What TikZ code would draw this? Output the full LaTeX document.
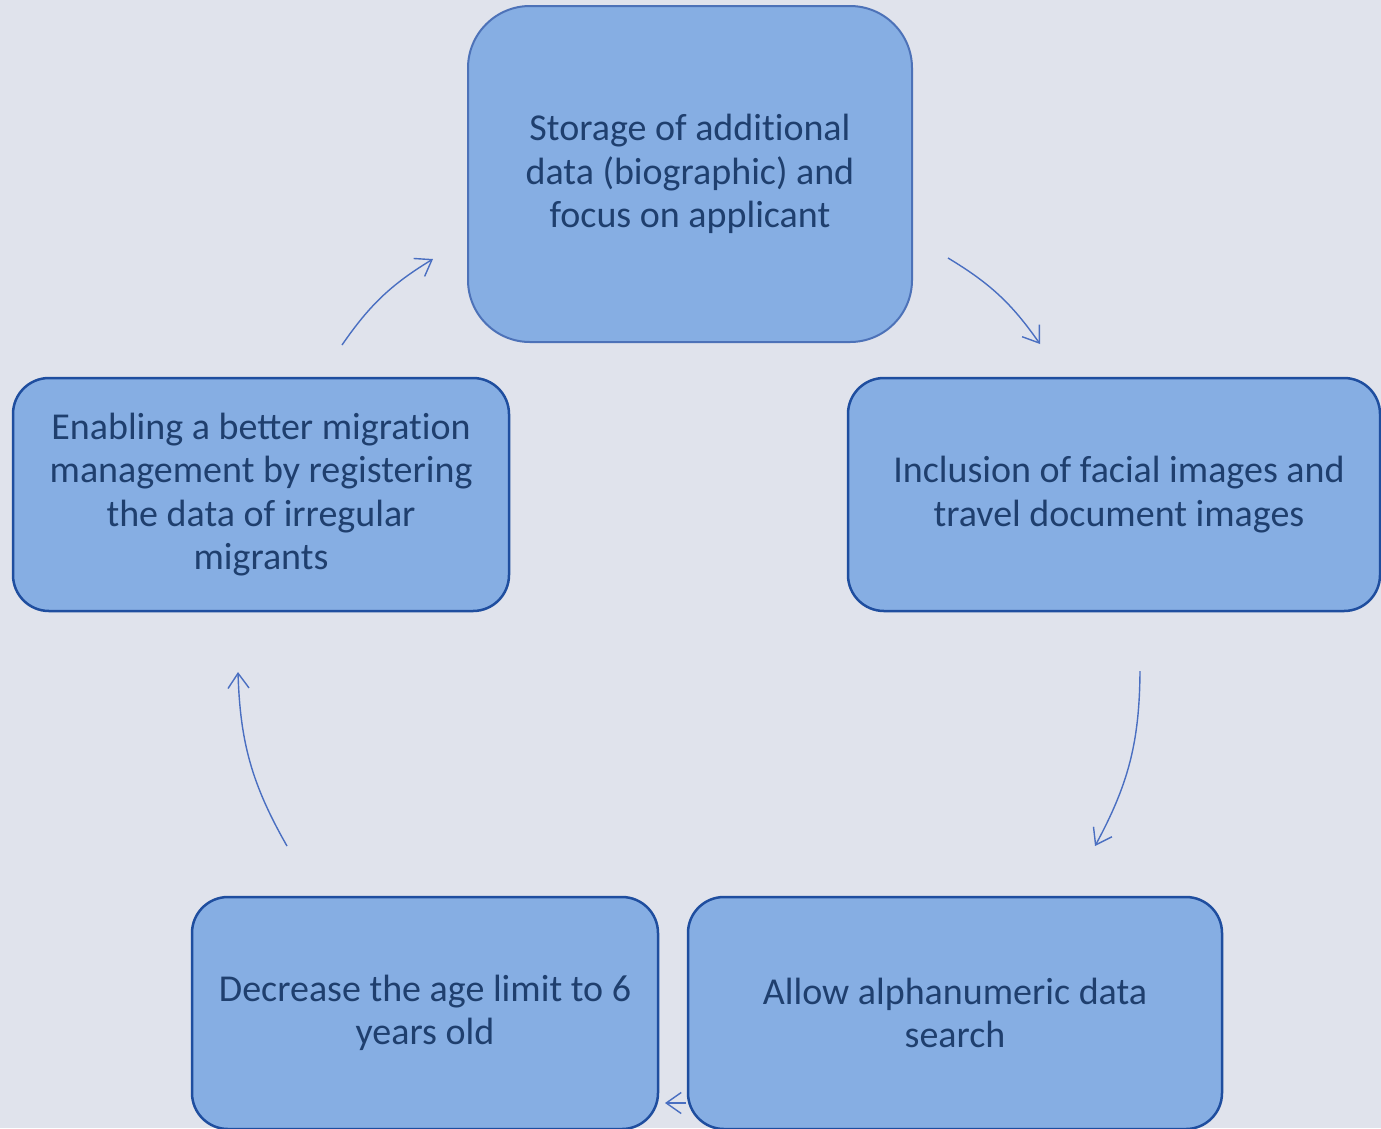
\documentclass[tikz,border=0pt]{standalone}
\usepackage{fontspec}
\setmainfont{Carlito}
\usetikzlibrary{arrows.meta}
\definecolor{bg}{HTML}{E0E3EC}
\definecolor{boxfill}{HTML}{86AEE3}
\definecolor{boxline}{HTML}{1F4E9F}
\definecolor{topline}{HTML}{4D72B8}
\definecolor{txt}{HTML}{1F3F6E}
\definecolor{arr}{HTML}{4A6FC1}
\tikzset{
  stepbox/.style={draw=boxline, line width=2.5pt, fill=boxfill, rounded corners=36pt,
    align=center, text=txt, inner sep=0pt,
    font=\fontsize{38}{43.5}\selectfont},
  flow/.style={draw=arr, line width=1.4pt, -{Straight Barb[length=15pt,width=21pt,line width=1.4pt]}}
}
\begin{document}
\begin{tikzpicture}[x=1pt,y=-1pt]
\path[use as bounding box, clip] (0,0) rectangle (1381,1128);
\fill[bg] (0,0) rectangle (1381,1128);

\node[stepbox, draw=topline, line width=2pt, rounded corners=62pt,
      minimum width=444pt, minimum height=336pt] (top) at (690,174)
  {Storage of addit\kern0pt ional\\data (biographic) and\\focus on applicant};
\node[stepbox, minimum width=532pt, minimum height=233pt] (right) at (1114,494.5)
  {\hspace*{10pt}Inclusion of facial images and\\\hspace*{10pt}travel document images};
\node[stepbox, minimum width=496pt, minimum height=233pt] (left) at (261,494.5)
  {Enabling a better migrat\kern0pt ion\\management by registering\\the data of irregular\\migrants};
\node[stepbox, minimum width=466pt, minimum height=232pt] (bl) at (425,1013)
  {Decrease the age limit to 6\\years old};
\node[stepbox, minimum width=534pt, minimum height=232pt] (br) at (955,1013)
  {Allow alphanumeric data\\search};

\coordinate (a1s) at (342,345);
\coordinate (a1e) at (433,259);
\coordinate (a2s) at (948,258);
\coordinate (a2e) at (1040,344);
\coordinate (a3s) at (1140,671);
\coordinate (a3e) at (1095,846);
\coordinate (a4s) at (686,1103);
\coordinate (a4e) at (665,1103);
\coordinate (a5s) at (287,846);
\coordinate (a5e) at (238,672);

\draw[flow] (a1s) to[bend left=12] (a1e);
\draw[flow] (a2s) to[bend left=12] (a2e);
\draw[flow] (a3s) to[bend left=14] (a3e);
\draw[flow] (a4s) -- (a4e);
\draw[flow] (a5s) to[bend left=14] (a5e);
\end{tikzpicture}
\end{document}
